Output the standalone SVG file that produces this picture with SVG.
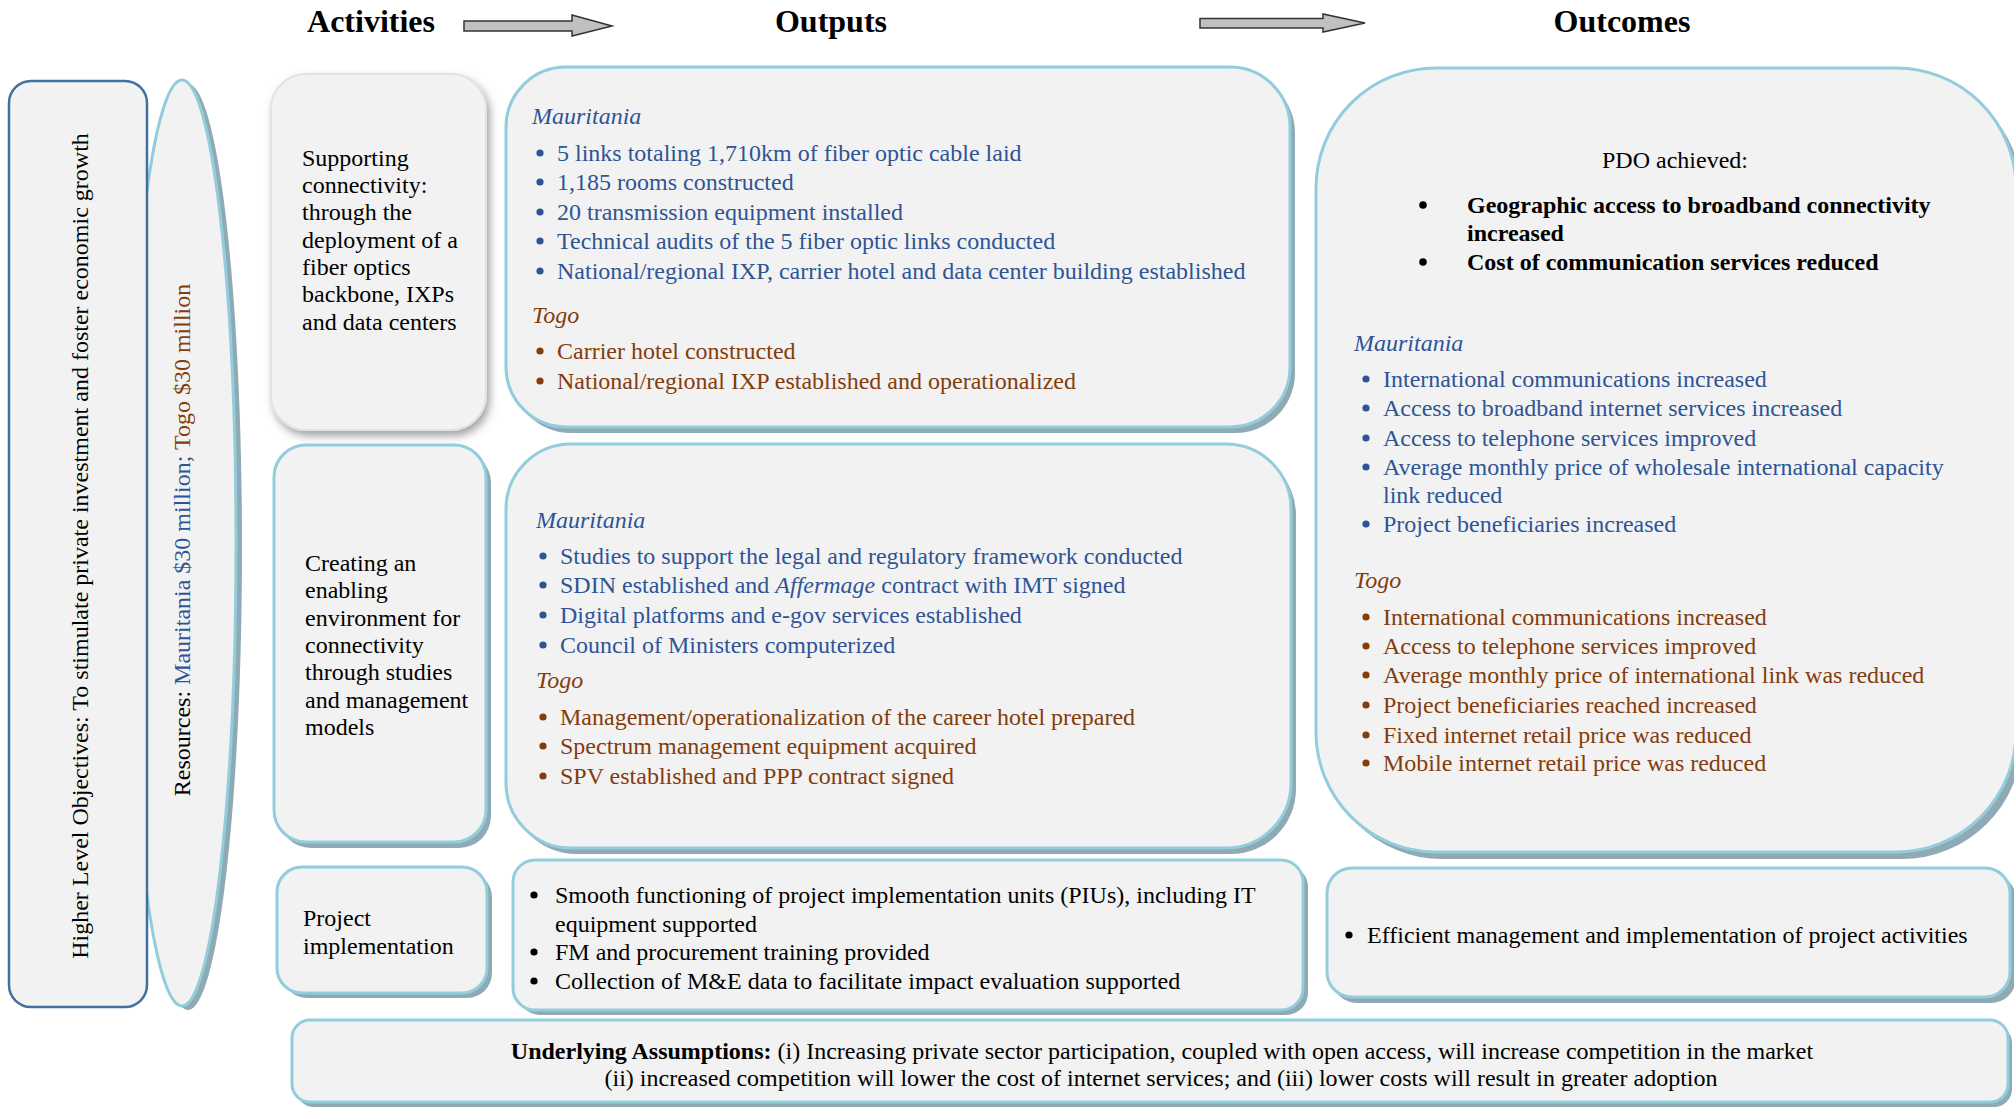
<svg xmlns="http://www.w3.org/2000/svg" width="2014" height="1107" viewBox="0 0 2014 1107">
<defs>
<style>
.t{font-family:"Liberation Serif","Times New Roman",serif;font-size:24px;fill:#000}
.h{font-family:"Liberation Serif","Times New Roman",serif;font-size:32px;font-weight:bold;fill:#000;text-anchor:middle}
.b{fill:#2F5496}
.r{fill:#843C0C}
.k{fill:#000}
.i{font-style:italic}
.bd{font-weight:bold}
.box{fill:#F2F2F2;stroke:#92CDDC;stroke-width:3}
.sh{fill:#8FAAB4}
.arrow{fill:#C0C0C0;stroke:#333;stroke-width:1.5}
</style>
<filter id="soft" x="-20%" y="-20%" width="140%" height="140%">
<feDropShadow dx="3" dy="5" stdDeviation="4" flood-color="#666" flood-opacity="0.6"/>
</filter>
</defs>
<rect width="2014" height="1107" fill="#fff"/>

<g id="headers">
<text class="h" x="371" y="32">Activities</text>
<text class="h" x="831" y="32">Outputs</text>
<text class="h" x="1622" y="32">Outcomes</text>
</g>

<g id="connectors">
<polygon class="arrow" points="464,21 572,21 572,15 612,26 572,36 572,31 464,31"/>
<polygon class="arrow" points="1200,18.5 1323,18.5 1323,14 1365,23 1323,32 1323,28 1200,28"/>
</g>

<g id="resources">
<ellipse class="sh" cx="188" cy="547" rx="54" ry="463"/>
<ellipse class="box" cx="182" cy="543" rx="54" ry="463"/>
<text class="t" transform="translate(190,540) rotate(-90)" text-anchor="middle">Resources: <tspan class="b">Mauritania $30 million; </tspan><tspan class="r">Togo $30 million</tspan></text>
</g>

<g id="objectives">
<rect x="9" y="81" width="138" height="926" rx="22" fill="#F2F2F2" stroke="#41719C" stroke-width="2.5"/>
<text class="t" transform="translate(88,546) rotate(-90)" text-anchor="middle">Higher Level Objectives: To stimulate private investment and foster economic growth</text>
</g>

<g id="activity1">
<rect x="271" y="74" width="215" height="356" rx="35" fill="#F2F2F2" stroke="#E2E2E2" stroke-width="2" filter="url(#soft)"/>
<text class="t"><tspan x="302" y="166">Supporting</tspan><tspan x="302" y="193">connectivity:</tspan><tspan x="302" y="220">through the</tspan><tspan x="302" y="248">deployment of a</tspan><tspan x="302" y="275">fiber optics</tspan><tspan x="302" y="302">backbone, IXPs</tspan><tspan x="302" y="330">and data centers</tspan></text>
</g>

<g id="activity2">
<rect class="sh" x="279" y="451" width="212" height="397" rx="32"/>
<rect class="box" x="274" y="445" width="212" height="397" rx="32"/>
<text class="t"><tspan x="305" y="571">Creating an</tspan><tspan x="305" y="598">enabling</tspan><tspan x="305" y="626">environment for</tspan><tspan x="305" y="653">connectivity</tspan><tspan x="305" y="680">through studies</tspan><tspan x="305" y="708">and management</tspan><tspan x="305" y="735">models</tspan></text>
</g>

<g id="activity3">
<rect class="sh" x="282" y="872" width="210" height="126" rx="25"/>
<rect class="box" x="277" y="867" width="210" height="126" rx="25"/>
<text class="t"><tspan x="303" y="926">Project</tspan><tspan x="303" y="954">implementation</tspan></text>
</g>

<g id="output1">
<rect class="sh" x="511" y="73" width="784" height="360" rx="60"/>
<rect class="box" x="506" y="67" width="784" height="360" rx="60"/>
<text class="t b i" x="532" y="124">Mauritania</text>
<g class="b">
<circle cx="540" cy="153" r="3.6"/><circle cx="540" cy="182" r="3.6"/><circle cx="540" cy="212" r="3.6"/><circle cx="540" cy="241" r="3.6"/><circle cx="540" cy="271" r="3.6"/>
</g>
<text class="t b"><tspan x="557" y="161">5 links totaling 1,710km of fiber optic cable laid</tspan><tspan x="557" y="190">1,185 rooms constructed</tspan><tspan x="557" y="220">20 transmission equipment installed</tspan><tspan x="557" y="249">Technical audits of the 5 fiber optic links conducted</tspan><tspan x="557" y="279">National/regional IXP, carrier hotel and data center building established</tspan></text>
<text class="t r i" x="532" y="323">Togo</text>
<g class="r"><circle cx="540" cy="351" r="3.6"/><circle cx="540" cy="381" r="3.6"/></g>
<text class="t r"><tspan x="557" y="359">Carrier hotel constructed</tspan><tspan x="557" y="389">National/regional IXP established and operationalized</tspan></text>
</g>

<g id="output2">
<rect class="sh" x="511" y="450" width="785" height="404" rx="65"/>
<rect class="box" x="506" y="444" width="785" height="404" rx="65"/>
<text class="t b i" x="536" y="528">Mauritania</text>
<g class="b"><circle cx="543" cy="556" r="3.6"/><circle cx="543" cy="585" r="3.6"/><circle cx="543" cy="615" r="3.6"/><circle cx="543" cy="645" r="3.6"/></g>
<text class="t b"><tspan x="560" y="564">Studies to support the legal and regulatory framework conducted</tspan><tspan x="560" y="593">SDIN established and <tspan class="i">Affermage</tspan> contract with IMT signed</tspan><tspan x="560" y="623">Digital platforms and e-gov services established</tspan><tspan x="560" y="653">Council of Ministers computerized</tspan></text>
<text class="t r i" x="536" y="688">Togo</text>
<g class="r"><circle cx="543" cy="717" r="3.6"/><circle cx="543" cy="746" r="3.6"/><circle cx="543" cy="776" r="3.6"/></g>
<text class="t r"><tspan x="560" y="725">Management/operationalization of the career hotel prepared</tspan><tspan x="560" y="754">Spectrum management equipment acquired</tspan><tspan x="560" y="784">SPV established and PPP contract signed</tspan></text>
</g>

<g id="output3">
<rect class="sh" x="518" y="865" width="790" height="150" rx="22"/>
<rect class="box" x="513" y="860" width="790" height="150" rx="22"/>
<g class="k"><circle cx="534" cy="895" r="3.6"/><circle cx="534" cy="952" r="3.6"/><circle cx="534" cy="981" r="3.6"/></g>
<text class="t"><tspan x="555" y="903">Smooth functioning of project implementation units (PIUs), including IT</tspan><tspan x="555" y="932">equipment supported</tspan><tspan x="555" y="960">FM and procurement training provided</tspan><tspan x="555" y="989">Collection of M&amp;E data to facilitate impact evaluation supported</tspan></text>
</g>

<g id="outcome1">
<rect class="sh" x="1322" y="75" width="700" height="784" rx="120"/>
<rect class="box" x="1316" y="68" width="700" height="784" rx="120"/>
<text class="t" x="1675" y="168" text-anchor="middle">PDO achieved:</text>
<g class="k"><circle cx="1423" cy="205" r="3.8"/><circle cx="1423" cy="262" r="3.8"/></g>
<text class="t bd"><tspan x="1467" y="213">Geographic access to broadband connectivity</tspan><tspan x="1467" y="241">increased</tspan><tspan x="1467" y="270">Cost of communication services reduced</tspan></text>
<text class="t b i" x="1354" y="351">Mauritania</text>
<g class="b"><circle cx="1366" cy="379" r="3.6"/><circle cx="1366" cy="408" r="3.6"/><circle cx="1366" cy="438" r="3.6"/><circle cx="1366" cy="467" r="3.6"/><circle cx="1366" cy="524" r="3.6"/></g>
<text class="t b"><tspan x="1383" y="387">International communications increased</tspan><tspan x="1383" y="416">Access to broadband internet services increased</tspan><tspan x="1383" y="446">Access to telephone services improved</tspan><tspan x="1383" y="475">Average monthly price of wholesale international capacity</tspan><tspan x="1383" y="503">link reduced</tspan><tspan x="1383" y="532">Project beneficiaries increased</tspan></text>
<text class="t r i" x="1354" y="588">Togo</text>
<g class="r"><circle cx="1366" cy="617" r="3.6"/><circle cx="1366" cy="646" r="3.6"/><circle cx="1366" cy="675" r="3.6"/><circle cx="1366" cy="705" r="3.6"/><circle cx="1366" cy="735" r="3.6"/><circle cx="1366" cy="763" r="3.6"/></g>
<text class="t r"><tspan x="1383" y="625">International communications increased</tspan><tspan x="1383" y="654">Access to telephone services improved</tspan><tspan x="1383" y="683">Average monthly price of international link was reduced</tspan><tspan x="1383" y="713">Project beneficiaries reached increased</tspan><tspan x="1383" y="743">Fixed internet retail price was reduced</tspan><tspan x="1383" y="771">Mobile internet retail price was reduced</tspan></text>
</g>

<g id="outcome2">
<rect class="sh" x="1332" y="874" width="684" height="129" rx="25"/>
<rect class="box" x="1327" y="868" width="683" height="129" rx="25"/>
<circle class="k" cx="1349" cy="935" r="3.6"/>
<text class="t" x="1367" y="943">Efficient management and implementation of project activities</text>
</g>

<g id="assumptions">
<rect class="sh" x="296" y="1025" width="1716" height="82" rx="18"/>
<rect class="box" x="292" y="1020" width="1716" height="82" rx="18"/>
<text class="t" text-anchor="middle"><tspan x="1162" y="1059"><tspan class="bd">Underlying Assumptions:</tspan> (i) Increasing private sector participation, coupled with open access, will increase competition in the market</tspan><tspan x="1161" y="1086">(ii) increased competition will lower the cost of internet services; and (iii) lower costs will result in greater adoption</tspan></text>
</g>
</svg>
